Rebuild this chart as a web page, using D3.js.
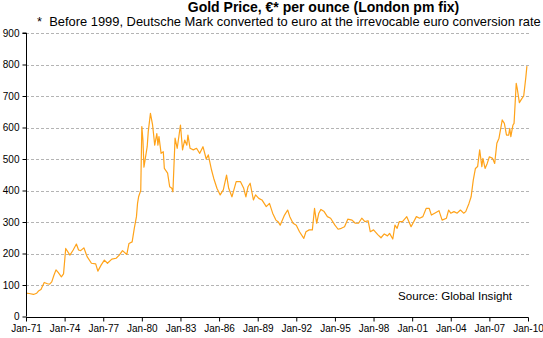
<!DOCTYPE html>
<html><head><meta charset="utf-8">
<script src="https://cdn.jsdelivr.net/npm/d3@7"></script>
<style>
html,body{margin:0;padding:0;background:#fff;}
svg{display:block;font-family:"Liberation Sans",Arial,sans-serif;}
</style></head>
<body><svg id="c" width="543" height="338"></svg>
<script>
const months = ["1971-01","1971-04","1971-08","1971-11","1972-01","1972-03","1972-06","1972-09","1972-11","1973-01","1973-03","1973-05","1973-07","1973-10","1973-12",
"1974-02","1974-06","1974-09","1974-12","1975-02","1975-04","1975-07","1975-10","1976-02","1976-06","1976-08","1976-11","1977-02","1977-05","1977-09",
"1978-01","1978-04","1978-07","1978-11","1979-01","1979-04","1979-06","1979-08","1979-09","1979-10","1979-12","1980-01","1980-02","1980-03","1980-06",
"1980-07","1980-09","1980-11","1981-01","1981-03","1981-04","1981-05","1981-07","1981-09","1981-10","1982-01","1982-03","1982-05","1982-06","1982-08",
"1982-10","1983-01","1983-03","1983-05","1983-07","1983-08","1983-10","1984-01","1984-04","1984-07","1984-10","1985-01","1985-03","1985-06","1985-08",
"1985-11","1986-02","1986-05","1986-08","1986-10","1987-01","1987-05","1987-09","1987-12","1988-02","1988-04","1988-06","1988-09","1988-11","1989-02",
"1989-05","1989-09","1989-12","1990-03","1990-06","1990-08","1990-10","1991-02","1991-05","1991-07","1991-10","1992-01","1992-04","1992-08","1992-10",
"1993-01","1993-04","1993-06","1993-08","1993-10","1993-12","1994-03","1994-06","1994-09","1995-01","1995-04","1995-07","1995-10","1996-01","1996-05",
"1996-08","1996-11","1997-02","1997-05","1997-08","1997-10","1998-01","1998-05","1998-08","1998-11","1999-02","1999-04","1999-07","1999-09","1999-11",
"2000-01","2000-04","2000-08","2000-12","2001-05","2001-08","2001-11","2002-02","2002-05","2002-07","2002-10","2003-02","2003-05","2003-09","2003-11",
"2004-01","2004-04","2004-07","2004-10","2005-01","2005-03","2005-06","2005-08","2005-10","2005-12","2006-02","2006-04","2006-06","2006-07","2006-09",
"2006-11","2007-01","2007-04","2007-06","2007-08","2007-10","2008-01","2008-03","2008-05","2008-07","2008-08","2008-09","2008-11","2008-12","2009-02",
"2009-03","2009-05","2009-07","2009-09","2009-11","2009-12"];
const prices = [74,73,70,74,82,86,108,104,103,110,130,148,140,126,135,
216,195,211,230,211,209,218,190,169,167,144,163,179,169,182,
185,195,209,197,232,237,280,317,359,380,400,603,560,474,539,
587,645,608,544,581,544,571,518,523,470,455,412,407,396,566,
534,608,529,560,544,576,534,529,534,518,539,500,513,465,439,
407,386,402,449,407,380,428,428,407,380,412,423,370,386,375,
370,349,359,328,306,301,290,322,338,317,296,290,269,248,269,
275,275,343,296,328,340,333,317,312,290,277,280,285,309,306,
296,296,312,301,304,269,275,260,250,262,256,264,246,290,280,
301,301,317,285,317,312,317,343,343,322,328,336,306,312,338,
328,333,328,338,328,333,359,380,433,470,476,529,476,502,470,
486,507,502,486,550,566,624,613,576,576,597,571,608,613,740,
724,679,690,700,760,795];
const yTicks = [0,100,200,300,400,500,600,700,800,900];
const xTickYears = [1971,1974,1977,1980,1983,1986,1989,1992,1995,1998,2001,2004,2007,2010];
const titleText = "Gold Price, \u20ac* per ounce (London pm fix)";
const subtitleText = "*\u00a0\u00a0Before 1999, Deutsche Mark converted to euro at the irrevocable euro conversion rate";
const sourceText = "Source: Global Insight";

const parse = d3.timeParse("%Y-%m");
const data = months.map((m,i)=>({d:parse(m), v:prices[i]}));
const svg = d3.select("#c");
const L=26, R=528, T=33, B=316.5;
const x = d3.scaleTime().domain([new Date(1971,0,1), new Date(2010,0,1)]).range([L,R]);
const y = d3.scaleLinear().domain([0,900]).range([B,T]);

// gridlines
svg.append("g").selectAll("line").data(yTicks.filter(t=>t>0)).join("line")
  .attr("x1",L).attr("x2",531).attr("y1",d=>Math.round(y(d))+0.5).attr("y2",d=>Math.round(y(d))+0.5)
  .attr("stroke","#b4b4b4").attr("stroke-width",1).attr("stroke-dasharray","3,2");

// line
svg.append("path").datum(data)
  .attr("d", d3.line().x(d=>x(d.d)).y(d=>y(d.v)))
  .attr("fill","none").attr("stroke","#FFA31A").attr("stroke-width",1.2).attr("stroke-linejoin","round");

// axes
const yAxis = d3.axisLeft(y).tickValues(yTicks).tickSize(4).tickPadding(3).tickFormat(d3.format("d"));
const gy = svg.append("g").attr("transform",`translate(${L+0.5},0)`).call(yAxis);
gy.select(".domain").attr("d",`M-4,${T}H0V${B}`).attr("stroke","#000");
gy.selectAll("text").attr("font-size","10px").attr("fill","#000").attr("font-family","Liberation Sans, Arial, sans-serif");

const xAxis = d3.axisBottom(x).tickValues(xTickYears.map(yr=>new Date(yr,0,1))).tickSize(4).tickPadding(3).tickFormat(d3.timeFormat("%b-%y"));
const gx = svg.append("g").attr("transform",`translate(0,${Math.round(B)+0.5})`).call(xAxis);
gx.select(".domain").attr("d",`M${L},0H${R+0.5}`).attr("stroke","#000");
gx.selectAll("text").attr("font-size","10px").attr("fill","#000").attr("font-family","Liberation Sans, Arial, sans-serif");

// texts
svg.append("text").attr("x",323.5).attr("y",12).attr("text-anchor","middle")
  .attr("font-size","14px").attr("font-weight","bold").text(titleText);
svg.append("text").attr("x",37).attr("y",25.5)
  .attr("font-size","12.9px").text(subtitleText);
svg.append("text").attr("x",398).attr("y",299.5)
  .attr("font-size","11.6px").text(sourceText);
</script></body></html>
